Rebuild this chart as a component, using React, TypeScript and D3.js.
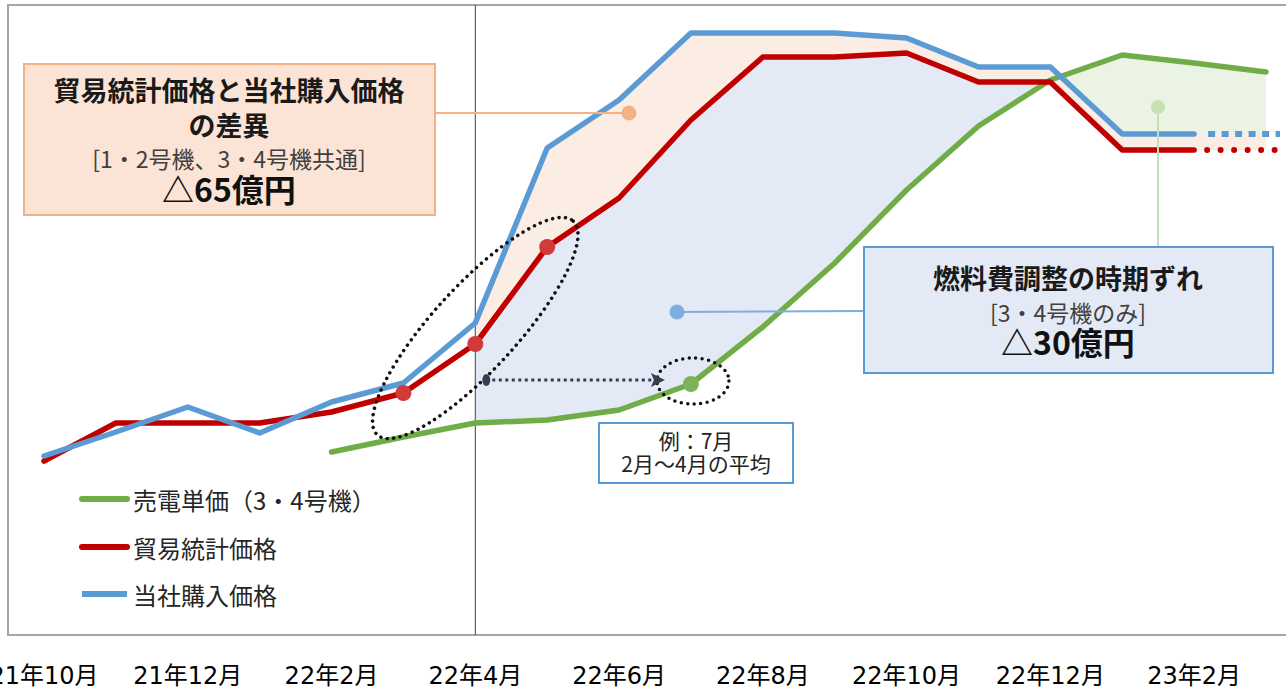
import React from 'react';
import * as d3 from 'd3';

// Monthly axis, Oct 2021 – Mar 2023
const months = [
  '2021-10', '2021-11', '2021-12', '2022-01', '2022-02', '2022-03',
  '2022-04', '2022-05', '2022-06', '2022-07', '2022-08', '2022-09',
  '2022-10', '2022-11', '2022-12', '2023-01', '2023-02', '2023-03',
];
const tickMonths = ['2021-10', '2021-12', '2022-02', '2022-04', '2022-06', '2022-08', '2022-10', '2022-12', '2023-02'];
const tickLabels = ['21年10月', '21年12月', '22年2月', '22年4月', '22年6月', '22年8月', '22年10月', '22年12月', '23年2月'];

// Price index values (relative units)
const tradeStats: (number | null)[] = [34.8, 42.4, 42.4, 42.4, 44.6, 48.4, 58.2, 77.6, 87.4, 103, 115.6, 115.6, 116.4, 110.6, 110.6, 97, 97, 97];
const purchase: (number | null)[] = [35.8, 40.6, 45.6, 40.4, 46.6, 50.4, 62.4, 97.4, 107, 120.4, 120.4, 120.4, 119.4, 113.6, 113.6, 100.2, 100.2, 100.2];
const tariff: (number | null)[] = [null, null, null, null, 36.6, 39.6, 42.4, 43, 45, 50.2, 61.6, 74.4, 89, 101.8, 111, 116, 114.4, 112.6];

const seriesNames = ['売電単価（3・4号機）', '貿易統計価格', '当社購入価格'];
const seriesColors = ['#70AD47', '#C00000', '#5B9BD5'];

const averagedMonths = ['2022-03', '2022-04', '2022-05'];
const exampleMonth = '2022-07';
const fillFrom = '2022-04';
const forecastFrom = '2023-02';

const W = 1286;
const H = 687;
const TOP = 5;
const BOTTOM = 635;

const CJK = "'Noto Sans CJK JP', 'Noto Sans CJK SC', sans-serif";
const AXIS_FONT = "'DejaVu Sans', 'Noto Sans CJK JP', sans-serif";

export default function App() {
  const x = d3.scalePoint<string>().domain(months).range([44, 1266]);
  const y = d3.scaleLinear().domain([0, 126]).range([BOTTOM, TOP]);
  const X = (m: string) => x(m) as number;

  const fi = months.indexOf(forecastFrom);
  const si = months.indexOf(fillFrom);

  const lineOf = (vals: (number | null)[], from: number, to: number) =>
    d3
      .line<number | null>()
      .defined((d, i) => d != null && i >= from && i <= to)
      .x((_, i) => X(months[i]))
      .y((d) => y(d as number))(vals) || '';

  const idx = d3.range(si, months.length);
  const areaBetween = (lo: (number | null)[], hi: (number | null)[]) =>
    d3
      .area<number>()
      .x((i) => X(months[i]))
      .y0((i) => y(lo[i] as number))
      .y1((i) => y(hi[i] as number))(idx) || '';

  // clip regions: below the trade-stats line, above the purchase line
  const belowRed =
    (d3.line<number>().x((i) => X(months[i])).y((i) => y(tradeStats[i] as number))(idx) || '') +
    `L${X(months[months.length - 1])},${BOTTOM}L${X(months[si])},${BOTTOM}Z`;
  const aboveBlue =
    (d3.line<number>().x((i) => X(months[i])).y((i) => y(purchase[i] as number))(idx) || '') +
    `L${X(months[months.length - 1])},${TOP}L${X(months[si])},${TOP}Z`;

  // averaging ellipse around the marked trade-stats points
  const avgPts = averagedMonths.map((m) => [X(m), y(tradeStats[months.indexOf(m)] as number)]);
  const ecx = d3.mean(avgPts, (p) => p[0]) as number;
  const ecy = d3.mean(avgPts, (p) => p[1]) as number;

  const exX = X(exampleMonth);
  const exY = y(tariff[months.indexOf(exampleMonth)] as number);
  const arrowY = exY - 4;
  const arrowX0 = X(fillFrom) + 11;
  const arrowX1 = exX - 26;

  const legendY = [499, 547, 594];

  return (
    <div style={{ position: 'fixed', left: 0, top: 0 }}>
      <svg width={W} height={H} style={{ display: 'block', background: '#fff' }}>
        <defs>
          <clipPath id="belowRed">
            <path d={belowRed} />
          </clipPath>
          <clipPath id="aboveBlue">
            <path d={aboveBlue} />
          </clipPath>
        </defs>

        {/* frame */}
        <path d={`M${W + 2},${TOP}H8V${BOTTOM}H${W + 2}`} fill="none" stroke="#a6a6a6" strokeWidth={2} />

        {/* gap areas */}
        <path d={areaBetween(tradeStats, purchase)} fill="#FCEDE4" />
        <path d={areaBetween(tariff, tradeStats)} fill="#E3E9F5" clipPath="url(#belowRed)" />
        <path d={areaBetween(tariff, purchase)} fill="#EBF3E4" clipPath="url(#aboveBlue)" />

        {/* fiscal year divider */}
        <line x1={X(fillFrom)} x2={X(fillFrom)} y1={TOP} y2={BOTTOM} stroke="#404040" strokeWidth={1} />

        {/* series lines */}
        <path d={lineOf(tariff, 0, months.length - 1)} fill="none" stroke={seriesColors[0]} strokeWidth={5.5} strokeLinejoin="round" strokeLinecap="round" />
        <path d={lineOf(tradeStats, 0, fi)} fill="none" stroke={seriesColors[1]} strokeWidth={5.5} strokeLinejoin="round" strokeLinecap="round" />
        <path d={lineOf(tradeStats, fi, months.length - 1)} fill="none" stroke={seriesColors[1]} strokeWidth={6} strokeDasharray="0 13.5" strokeLinecap="round" transform="translate(13,0)" />
        <path d={lineOf(purchase, 0, fi)} fill="none" stroke={seriesColors[2]} strokeWidth={5.5} strokeLinejoin="round" strokeLinecap="round" />
        <path d={lineOf(purchase, fi, months.length - 1)} fill="none" stroke={seriesColors[2]} strokeWidth={6} strokeDasharray="7 6.5" transform="translate(14,0)" />

        {/* markers */}
        {averagedMonths.map((m) => (
          <circle key={m} cx={X(m)} cy={y(tradeStats[months.indexOf(m)] as number)} r={8} fill="#D03A3A" />
        ))}
        <circle cx={exX} cy={exY} r={8} fill="#7CB35A" />

        {/* dotted ellipses */}
        <ellipse
          cx={ecx}
          cy={ecy}
          rx={145}
          ry={42}
          transform={`rotate(-47.5 ${ecx} ${ecy})`}
          fill="none"
          stroke="#111"
          strokeWidth={3.5}
          strokeDasharray="0 6.5"
          strokeLinecap="round"
        />
        <ellipse cx={exX + 2} cy={exY - 3} rx={36} ry={23} fill="none" stroke="#111" strokeWidth={3.5} strokeDasharray="0 6.5" strokeLinecap="round" />

        {/* averaging arrow */}
        <ellipse cx={arrowX0} cy={arrowY} rx={4} ry={6} fill="#333F50" />
        <line x1={arrowX0 + 6} x2={arrowX1 - 12} y1={arrowY} y2={arrowY} stroke="#333F50" strokeWidth={3} strokeDasharray="3 3.5" />
        <path d={`M${arrowX1},${arrowY}L${arrowX1 - 14},${arrowY - 7}L${arrowX1 - 11},${arrowY}L${arrowX1 - 14},${arrowY + 7}Z`} fill="#333F50" />

        {/* connectors */}
        <line x1={435} x2={629} y1={113} y2={113} stroke="#F4B183" strokeWidth={2} />
        <circle cx={629} cy={113} r={7.5} fill="#F4B183" />
        <line x1={677} x2={864} y1={312} y2={311} stroke="#7DAEE0" strokeWidth={2} />
        <circle cx={677} cy={312} r={7.5} fill="#7DAEE0" />
        <line x1={1158} x2={1158} y1={107} y2={247} stroke="#C5E0B4" strokeWidth={2} />
        <circle cx={1158} cy={107} r={7} fill="#C5E0B4" />

        {/* gap annotation: trade stats vs purchase */}
        <rect x={24} y={64} width={411} height={151} fill="#FBE4D6" stroke="#F4B183" strokeWidth={2} />
        <g fontFamily={CJK} textAnchor="middle" dominantBaseline="central">
          <text x={229} y={89} fontSize={27} fontWeight={700} fill="#1a1a1a">貿易統計価格と当社購入価格</text>
          <text x={229} y={124} fontSize={27} fontWeight={700} fill="#1a1a1a">の差異</text>
          <text x={229} y={158} fontSize={23} fill="#404040">[1・2号機、3・4号機共通]</text>
          <text x={229} y={188} fontSize={32} fontWeight={700} fill="#111">△65億円</text>
        </g>

        {/* gap annotation: fuel cost adjustment lag */}
        <rect x={864} y={247} width={409} height={126} fill="#E3E9F5" stroke="#5B9BD5" strokeWidth={2} />
        <g fontFamily={CJK} textAnchor="middle" dominantBaseline="central">
          <text x={1068} y={277} fontSize={27} fontWeight={700} fill="#1a1a1a">燃料費調整の時期ずれ</text>
          <text x={1068} y={312} fontSize={23} fill="#404040">[3・4号機のみ]</text>
          <text x={1068} y={341} fontSize={32} fontWeight={700} fill="#111">△30億円</text>
        </g>

        {/* example note */}
        <rect x={599} y={423} width={194} height={60} fill="#fff" stroke="#5B9BD5" strokeWidth={2} />
        <g fontFamily={CJK} textAnchor="middle" dominantBaseline="central" fill="#222">
          <text x={696} y={440} fontSize={21}>例：7月</text>
          <text x={696} y={463} fontSize={21}>2月～4月の平均</text>
        </g>

        {/* legend */}
        {seriesNames.map((name, i) => (
          <g key={name}>
            <line x1={82} x2={127} y1={legendY[i]} y2={legendY[i]} stroke={seriesColors[i]} strokeWidth={6} strokeLinecap={i === 2 ? 'butt' : 'round'} />
            <text x={133} y={legendY[i]} fontFamily={CJK} fontSize={24} dominantBaseline="central" fill="#262626">
              {name}
            </text>
          </g>
        ))}

        {/* x-axis labels */}
        {tickMonths.map((m, i) => (
          <text key={m} x={X(m)} y={676} fontFamily={AXIS_FONT} fontSize={24} textAnchor="middle" dominantBaseline="central" fill="#000">
            {tickLabels[i]}
          </text>
        ))}
      </svg>
    </div>
  );
}
